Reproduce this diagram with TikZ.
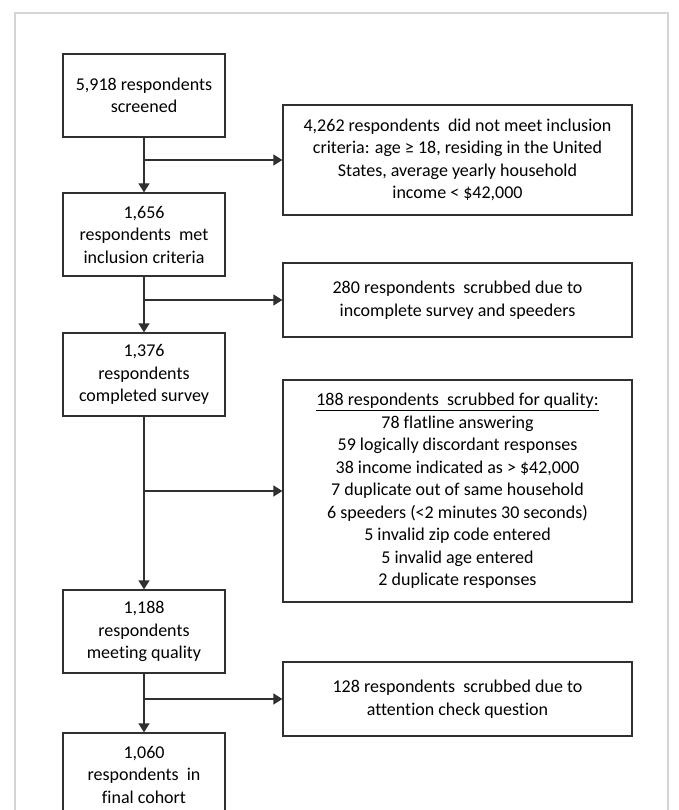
\documentclass[tikz,border=0pt]{standalone}
\usepackage{fontspec}
\setmainfont{Carlito}[Ligatures=NoCommon]
\usetikzlibrary{arrows.meta}
\definecolor{boxline}{HTML}{303030}
\definecolor{frameline}{HTML}{D4D4D4}
\tikzset{
  box/.style={draw=boxline, line width=1.3pt, align=center, inner sep=0pt,
    font=\fontsize{18}{22.5}\selectfont, text=black},
  leftbox/.style={box, minimum width=162pt, minimum height=83pt},
  rightbox/.style={box, minimum width=349pt},
  flow/.style={draw=boxline, line width=1.3pt, -{Triangle[width=11pt,length=9pt]}},
}
\begin{document}
\begin{tikzpicture}[x=1pt,y=-1pt]
\useasboundingbox (0,0) rectangle (678,810);
\fill[white] (0,0) rectangle (678,810);
\draw[frameline, line width=1.5pt] (15,830) -- (15,13) -- (668,13) -- (668,830);

\node[leftbox] (b1) at (144,95.5) {5,918 respondents\\screened};
\node[leftbox] (b2) at (144,234.5) {1,656\\respondents\ \ met\\inclusion criteria};
\node[leftbox] (b3) at (144,374.5) {1,376\\respondents\\completed survey};
\node[leftbox] (b4) at (144,631.5) {1,188\\respondents\\meeting quality};
\node[leftbox] (b5) at (144,774.5) {1,060\\respondents\ \ in\\final cohort};

\node[rightbox, minimum height=110pt] (r1) at (457.5,160) {4,262 respondents\ \ did not meet inclusion\\criteria: age ≥ 18, residing in the United\\States, average yearly household\\income < \$42,000};
\node[rightbox, minimum height=74pt] (r2) at (457.5,300) {280 respondents\ \ scrubbed due to\\incomplete survey and speeders};
\node[rightbox, minimum height=222pt] (r3) at (457.5,491) {\underline{188 respondents\ \ scrubbed for quality:}\\78 flatline answering\\59 logically discordant responses\\38 income indicated as > \$42,000\\7 duplicate out of same household\\6 speeders (<2 minutes 30 seconds)\\5 invalid zip code entered\\5 invalid age entered\\2 duplicate responses};
\node[rightbox, minimum height=74pt] (r4) at (457.5,699) {128 respondents\ \ scrubbed due to\\attention check question};

\draw[flow] (b1.south) -- (b2.north);
\draw[flow] (b2.south) -- (b3.north);
\draw[flow] (b3.south) -- (b4.north);
\draw[flow] (b4.south) -- (b5.north);
\draw[flow] (b1.south |- r1.west) -- (r1.west);
\draw[flow] (b2.south |- r2.west) -- (r2.west);
\draw[flow] (b3.south |- r3.west) -- (r3.west);
\draw[flow] (b4.south |- r4.west) -- (r4.west);
\end{tikzpicture}
\end{document}
